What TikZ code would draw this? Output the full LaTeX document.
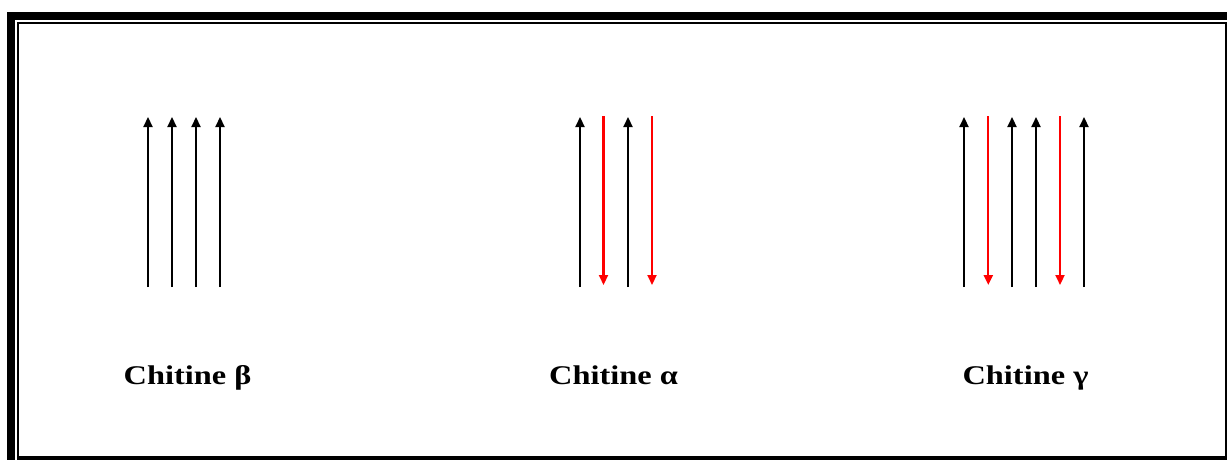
\documentclass[tikz,border=0pt]{standalone}
\usepackage{fontspec}
\setmainfont{Liberation Serif}
\newfontfamily\lblfont[FakeStretch=1.2]{Liberation Serif}
\usetikzlibrary{arrows.meta}
\tikzset{
  chain/.style={line width=2.2pt, -{Triangle[width=9pt,length=10pt]}},
  up/.style={chain, black},
  down/.style={chain, red},
  lbl/.style={font=\lblfont\bfseries\fontsize{27}{30}\selectfont, anchor=base, inner sep=0pt}
}
\begin{document}
\begin{tikzpicture}[x=1pt,y=-1pt]
\useasboundingbox (0,0) rectangle (1227,460);
% frame
\fill[black] (7,12) rectangle (1227,20);
\fill[black] (7,12) rectangle (15,460);
\draw[line width=2pt] (18,457) -- (18,23) -- (1226,23) -- (1226,457);
\fill[black] (17,456) rectangle (1227,460);
% beta
\foreach \i/\x in {1/148,2/172,3/196,4/220}{
  \coordinate (b\i s) at (\x,287);
  \coordinate (b\i e) at (\x,117);
  \draw[up] (b\i s) -- (b\i e);
}
% alpha
\foreach \i/\x in {1/580,3/628}{
  \coordinate (a\i s) at (\x,287);
  \coordinate (a\i e) at (\x,117);
  \draw[up] (a\i s) -- (a\i e);
}
\foreach \i/\x in {2/603.5,4/652}{
  \coordinate (a\i s) at (\x,116);
  \coordinate (a\i e) at (\x,285);
  \draw[down] (a\i s) -- (a\i e);
}
% gamma
\foreach \i/\x in {1/964,3/1012,4/1036,6/1084}{
  \coordinate (g\i s) at (\x,287);
  \coordinate (g\i e) at (\x,117);
  \draw[up] (g\i s) -- (g\i e);
}
\foreach \i/\x in {2/988.3,5/1060}{
  \coordinate (g\i s) at (\x,116);
  \coordinate (g\i e) at (\x,285);
  \draw[down] (g\i s) -- (g\i e);
}
% labels
\node[lbl] (lb) at (187.5,384) {Chitine β};
\node[lbl] (la) at (613.5,384) {Chitine α};
\node[lbl] (lg) at (1025.5,384) {Chitine γ};
\end{tikzpicture}
\end{document}
